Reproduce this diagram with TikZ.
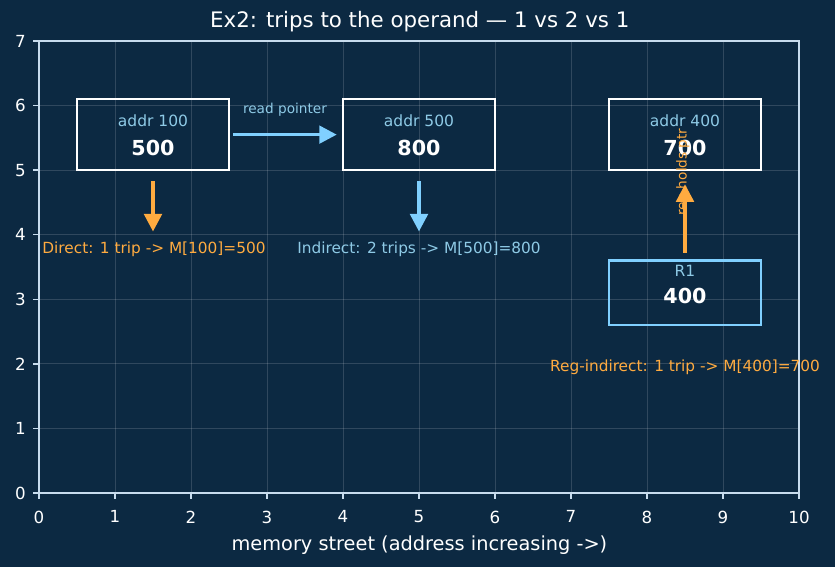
\documentclass[tikz,border=0pt]{standalone}
\usepackage{fontspec}
\setmainfont{DejaVu Sans}
\usetikzlibrary{arrows.meta,calc}

\definecolor{bgnavy}{RGB}{12,41,66}
\definecolor{spine}{RGB}{200,220,238}
\definecolor{triporange}{RGB}{255,171,64}
\definecolor{ptrblue}{RGB}{128,208,255}
\definecolor{lblblue}{RGB}{142,202,230}

\begin{document}
\begin{tikzpicture}
        [x=45.6pt, y=38.742pt,
        cell/.style={draw=white, line width=1.5pt, minimum width=91.2pt, minimum height=42.6pt, inner sep=0},
        reg/.style={draw=ptrblue, line width=1.5pt, minimum width=91.2pt, minimum height=38.74pt, inner sep=0},
        addr/.style={text=lblblue, font=\fontsize{9.3pt}{11pt}\selectfont, inner sep=0},
        val/.style={text=white, font=\fontsize{12.4pt}{14pt}\selectfont\bfseries, inner sep=0},
        tripline/.style={-{Triangle[length=10.5pt,width=10.5pt]}, line width=2.1pt, triporange},
        hopline/.style={-{Triangle[length=10.5pt,width=10.5pt]}, line width=2.1pt, ptrblue},
        note/.style={font=\fontsize{9.2pt}{11pt}\selectfont, inner sep=0},
        small/.style={font=\fontsize{8.2pt}{10pt}\selectfont, inner sep=0},
        tick/.style={text=white, font=\fontsize{10pt}{12pt}\selectfont, inner sep=0}]

        % Background and frame of the figure
        \fill[bgnavy] (-0.5132,-1.1461) rectangle (10.4737,7.6352);
        \useasboundingbox (-0.5132,-1.1461) rectangle (10.4737,7.6352);

        % Grid, spines and ticks
        \foreach \i in {1,...,9}
            \draw[white, opacity=0.15, line width=0.6pt] (\i,0) -- (\i,7);
        \foreach \j in {1,...,6}
            \draw[white, opacity=0.15, line width=0.6pt] (0,\j) -- (10,\j);
        \draw[spine, line width=0.9pt] (0,0) rectangle (10,7);
        \foreach \i in {0,...,10} {
            \draw[spine, line width=0.9pt] (\i,0) -- ++(0,-3.6pt);
            \node[tick, anchor=north] (xt\i) at ($(\i,0)+(0,-10.5pt)$) {\i};
        }
        \foreach \j in {0,...,7} {
            \draw[spine, line width=0.9pt] (0,\j) -- ++(-3.6pt,0);
            \node[tick, anchor=east] (yt\j) at ($(0,\j)+(-7.8pt,0)$) {\j};
        }

        % Title and axis label
        \node[text=white, font=\fontsize{12.8pt}{15pt}\selectfont, inner sep=0] (title) at (5.01,7.295) {Ex2: trips to the operand — 1 vs 2 vs 1};
        \node[text=white, font=\fontsize{11.6pt}{14pt}\selectfont, inner sep=0] (xlabel) at (5.006,-0.805) {memory street (address increasing ->)};

        % Memory cells and register
        \node[cell] (c100) at (1.5,5.55) {};
        \node[cell] (c500) at (5,5.55) {};
        \node[cell] (c400) at (8.5,5.55) {};
        \node[reg] (r1) at (8.5,3.1) {};

        \node[addr] (a100) at (1.5,5.76) {addr 100};
        \node[val] (v100) at (1.5,5.34) {500};
        \node[addr] (a500) at (5,5.76) {addr 500};
        \node[val] (v500) at (5,5.34) {800};
        \node[addr] (a400) at (8.5,5.76) {addr 400};
        \node[val] (v400) at (8.5,5.34) {700};
        \node[addr] (ar1) at (8.5,3.44) {R1};
        \node[val] (vr1) at (8.5,3.05) {400};

        % Arrow ends
        \coordinate (d100) at (1.5,4.05);
        \coordinate (d500) at (5,4.05);

        % Trips
        \draw[tripline] ($(c100.south)+(0,-0.15)$) -- (d100);
        \draw[hopline] ($(c500.south)+(0,-0.15)$) -- (d500);
        \draw[hopline] ($(c100.east)+(1.8pt,0)$) -- ($(c500.west)+(-3pt,0)$)
            node[midway, above=10pt, small, text=lblblue] {read pointer};
        \draw[tripline] ($(r1.north)+(0,0.1)$) -- ($(c400.south)+(0,-0.2)$);
        \node[small, text=triporange, rotate=90] (regptr) at (8.47,4.97) {reg holds ptr};

        % Notes
        \node[note, text=triporange, anchor=west] (ndirect) at (0.04,3.78) {Direct: 1 trip -> M[100]=500};
        \node[note, text=lblblue] (nindirect) at (5,3.78) {Indirect: 2 trips -> M[500]=800};
        \node[note, text=triporange] (nreg) at (8.5,1.95) {Reg-indirect: 1 trip -> M[400]=700};

    \end{tikzpicture}
\end{document}
